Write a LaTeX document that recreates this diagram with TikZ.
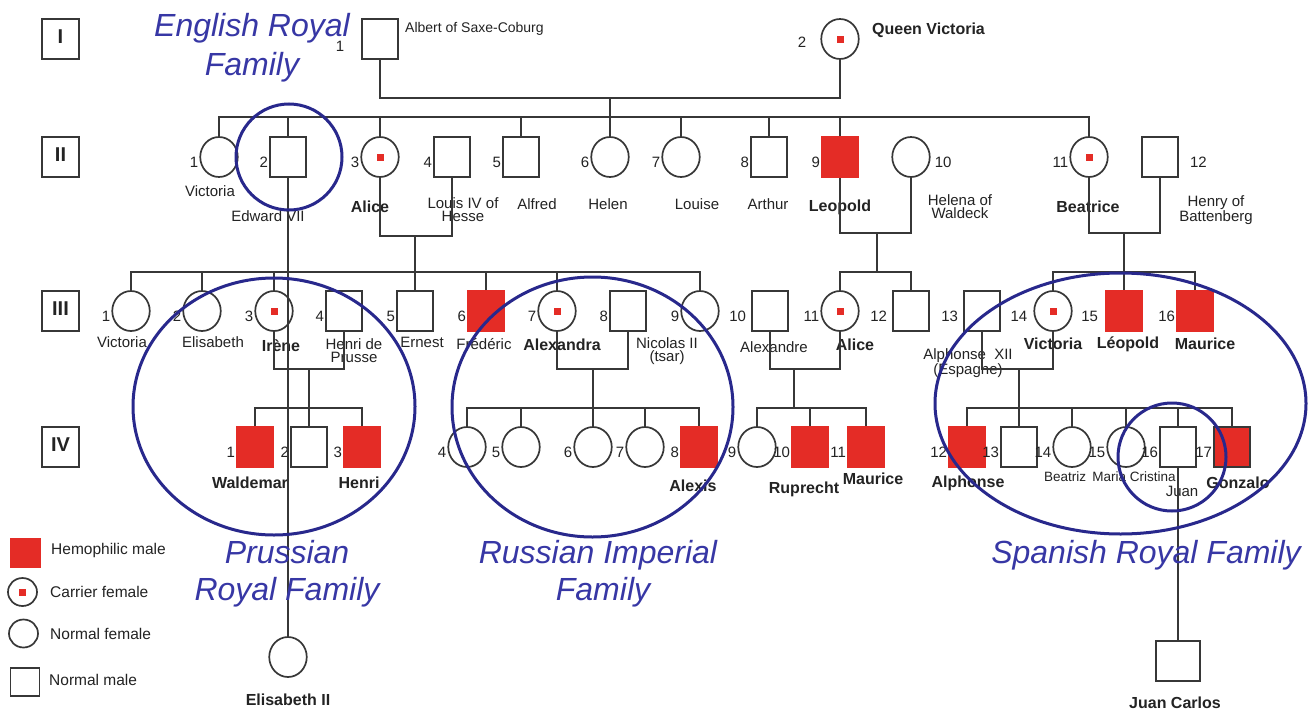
\documentclass[tikz,border=0pt]{standalone}
\usepackage{fontspec}
\setmainfont{Liberation Sans}
\setsansfont{Liberation Sans}
\usetikzlibrary{shapes.geometric}
\definecolor{hemored}{RGB}{228,44,38}
\definecolor{linegray}{RGB}{55,55,55}
\definecolor{txt}{RGB}{35,35,35}
\definecolor{ringblue}{RGB}{40,40,140}
\definecolor{famblue}{RGB}{55,55,165}
\begin{document}
\begin{tikzpicture}[x=1pt,y=-1pt,
 ln/.style={draw=linegray,line width=1.7pt},
 person/.style={draw=linegray,line width=1.7pt,inner sep=0pt,fill=white},
 male/.style={person,rectangle,minimum width=36pt,minimum height=40pt},
 female/.style={person,ellipse,minimum width=37.5pt,minimum height=40pt},
 hemo/.style={male,fill=hemored,draw=hemored},
 carrier/.style={female,path picture={\fill[hemored] ([xshift=-3.5pt,yshift=-3.5pt]path picture bounding box.center) rectangle ++(7pt,7pt);}},
 num/.style={font=\fontsize{15}{15}\selectfont,text=txt,inner sep=1pt,yshift=-5pt},
 nm/.style={font=\fontsize{15}{13}\selectfont,text=txt,align=center,inner sep=0pt},
 bnm/.style={font=\fontsize{16}{14}\selectfont\bfseries,text=txt,align=center,inner sep=0pt},
 sm/.style={font=\fontsize{13.5}{13.5}\selectfont,text=txt,inner sep=0pt},
 gen/.style={draw=linegray,line width=1.7pt,minimum width=37pt,minimum height=40pt,inner sep=0pt,font=\fontsize{20}{20}\selectfont\bfseries,text=txt},
 ring/.style={draw=ringblue,line width=3pt},
 fam/.style={font=\fontsize{32}{38}\selectfont\itshape,text=famblue,inner sep=0pt,anchor=base},
 leg/.style={font=\fontsize{15.5}{15.5}\selectfont,text=txt,anchor=west,inner sep=0pt},
]
\fill[white] (0,0) rectangle (1309,712);
\useasboundingbox (0,0) rectangle (1309,712);

% generation boxes
\node[gen] (g1) at (60.5,39) {\raisebox{4pt}{I}};
\node[gen] (g2) at (60.5,157) {\raisebox{4pt}{II}};
\node[gen] (g3) at (60.5,311) {\raisebox{4pt}{III}};
\node[gen] (g4) at (60.5,447) {\raisebox{4pt}{IV}};

% generation I
\node[male] (I1) at (380,39) {};
\node[carrier] (I2) at (840,39) {};
\node[num] (kI1) at (340,41) {1};
\node[num] (kI2) at (802,37) {2};
\node[font=\fontsize{14}{14}\selectfont,text=txt,anchor=west,inner sep=0pt] (nI1) at (405,29) {Albert of Saxe-Coburg};
\node[font=\fontsize{16}{16}\selectfont\bfseries,text=txt,anchor=west,inner sep=0pt] (nI2) at (872,30) {Queen Victoria};

% generation II
\node[female,label={[num]left:1}] (II1) at (219,157) {};
\node[male,label={[num]left:2}] (II2) at (288,157) {};
\node[carrier,label={[num]left:3}] (II3) at (380,157) {};
\node[male,label={[num]left:4}] (II4) at (452,157) {};
\node[male,label={[num]left:5}] (II5) at (521,157) {};
\node[female,label={[num]left:6}] (II6) at (610,157) {};
\node[female,label={[num]left:7}] (II7) at (681,157) {};
\node[male,label={[num]left:8}] (II8) at (769,157) {};
\node[hemo,label={[num]left:9}] (II9) at (840,157) {};
\node[female,label={[num,xshift=3pt]right:10}] (II10) at (911,157) {};
\node[carrier,label={[num]left:11}] (II11) at (1089,157) {};
\node[male,label={[num,xshift=10pt]right:12}] (II12) at (1160,157) {};

\node[nm] (nII1) at (210,191) {Victoria};
\node[nm] (nII2) at (268,216) {Edward VII};
\node[bnm] (nII3) at (370,207) {Alice};
\node[nm] (nII4) at (463,209.5) {Louis IV of\\Hesse};
\node[nm] (nII5) at (537,204) {Alfred};
\node[nm] (nII6) at (608,204) {Helen};
\node[nm] (nII7) at (697,204) {Louise};
\node[nm] (nII8) at (768,204) {Arthur};
\node[bnm] (nII9) at (840,207) {Leopold};
\node[nm] (nII10) at (960,207) {Helena of\\Waldeck};
\node[bnm] (nII11) at (1088,207) {Beatrice};
\node[nm] (nII12) at (1216,210) {Henry of\\Battenberg};

% generation III
\node[female,label={[num]left:1}] (III1) at (131,311) {};
\node[female,label={[num]left:2}] (III2) at (202,311) {};
\node[carrier,label={[num]left:3}] (III3) at (274,311) {};
\node[male,label={[num]left:4}] (III4) at (344,311) {};
\node[male,label={[num]left:5}] (III5) at (415,311) {};
\node[hemo,label={[num]left:6}] (III6) at (486,311) {};
\node[carrier,label={[num]left:7}] (III7) at (557,311) {};
\node[male,label={[num]left:8}] (III8) at (628,311) {};
\node[female,label={[num]left:9}] (III9) at (700,311) {};
\node[male,label={[num,xshift=-4pt]left:10}] (III10) at (770,311) {};
\node[carrier,label={[num]left:11}] (III11) at (840,311) {};
\node[male,label={[num,xshift=-4pt]left:12}] (III12) at (911,311) {};
\node[male,label={[num,xshift=-4pt]left:13}] (III13) at (982,311) {};
\node[carrier,label={[num,xshift=-5pt]left:14}] (III14) at (1053,311) {};
\node[hemo,label={[num,xshift=-6pt]left:15}] (III15) at (1124,311) {};
\node[hemo,label={[num]left:16}] (III16) at (1195,311) {};

\node[nm] (nIII1) at (122,342) {Victoria};
\node[nm] (nIII2) at (213,342) {Elisabeth};
\node[bnm] (nIII3) at (281,346) {Irène};
\node[nm] (nIII4) at (354,351) {Henri de\\Prusse};
\node[nm] (nIII5) at (422,342) {Ernest};
\node[nm] (nIII6) at (484,344) {Frédéric};
\node[bnm] (nIII7) at (562,345) {Alexandra};
\node[nm] (nIII8) at (667,351) {Nicolas II\\(tsar)};
\node[nm] (nIII10) at (774,347) {Alexandre};
\node[bnm] (nIII11) at (855,345) {Alice};
\node[nm] (nIII13) at (968,363) {Alphonse~~XII\\(Espagne)};
\node[bnm] (nIII14) at (1053,344) {Victoria};
\node[bnm] (nIII15) at (1128,344) {Léopold};
\node[bnm] (nIII16) at (1205,344) {Maurice};

% generation IV
\node[hemo,label={[num]left:1}] (IV1) at (255,447) {};
\node[male,label={[num]left:2}] (IV2) at (309,447) {};
\node[hemo,label={[num]left:3}] (IV3) at (362,447) {};
\node[female,label={[num]left:4}] (IV4) at (467,447) {};
\node[female,label={[num]left:5}] (IV5) at (521,447) {};
\node[female,label={[num]left:6}] (IV6) at (593,447) {};
\node[female,label={[num]left:7}] (IV7) at (645,447) {};
\node[hemo,label={[num]left:8}] (IV8) at (699,447) {};
\node[female,label={[num]left:9}] (IV9) at (757,447) {};
\node[hemo,label={[num]left:10}] (IV10) at (810,447) {};
\node[hemo,label={[num]left:11}] (IV11) at (866,447) {};
\node[hemo,label={[num]left:12}] (IV12) at (967,447) {};
\node[male,label={[num]left:13}] (IV13) at (1019,447) {};
\node[female,label={[num]left:14}] (IV14) at (1072,447) {};
\node[female,label={[num]left:15}] (IV15) at (1126,447) {};
\node[male,label={[num]left:16}] (IV16) at (1178,447) {};
\node[male,fill=hemored,label={[num]left:17}] (IV17) at (1232,447) {};

\node[bnm] (nIV1) at (250,483) {Waldemar};
\node[bnm] (nIV3) at (359,483) {Henri};
\node[bnm] (nIV8) at (693,486) {Alexis};
\node[bnm] (nIV10) at (804,489) {Ruprecht};
\node[bnm] (nIV11) at (873,479) {Maurice};
\node[bnm] (nIV12) at (968,483) {Alphonse};
\node[sm] (nIV14) at (1065,477) {Beatriz};
\node[sm] (nIV15) at (1134,477) {Maria Cristina};
\node[nm] (nIV16) at (1182,491) {Juan};
\node[bnm] (nIV17) at (1238,483) {Gonzalo};

% generation V
\node[female] (E2) at (288,657) {};
\node[bnm] (nE2) at (288,700) {Elisabeth II};
\node[male,minimum width=44pt] (JC) at (1178,661) {};
\node[bnm] (nJC) at (1175,703) {Juan Carlos};

% legend
\node[hemo,minimum width=29pt,minimum height=28pt] (L1) at (25.5,553) {};
\node[carrier,minimum width=29pt,minimum height=28pt] (L2) at (22.5,592) {};
\node[female,minimum width=29pt,minimum height=28pt] (L3) at (23.5,633.5) {};
\node[male,minimum width=29pt,minimum height=28pt] (L4) at (25,682) {};
\node[leg] (tL1) at (51,550) {Hemophilic male};
\node[leg] (tL2) at (50,592) {Carrier female};
\node[leg] (tL3) at (50,634) {Normal female};
\node[leg] (tL4) at (49,680) {Normal male};

% connectors
\coordinate (s2) at (0,117);
\coordinate (s3) at (0,272);
\coordinate (s4) at (0,408);
\coordinate (m1) at (610,98);
\draw[ln] (I1.south) |- (m1) -| (I2.south);
\draw[ln] (m1) -- (II6.north);
\draw[ln] (II1.north) |- (II11.north |- s2) -- (II11.north);
\foreach \c in {II2,II3,II5,II7,II8,II9} \draw[ln] (\c.north) -- (\c.north |- s2);

\coordinate (m2) at (415,236);
\draw[ln] (II3.south) |- (m2) -| (II4.south);
\draw[ln] (m2) -- (III5.north);
\draw[ln] (III1.north) |- (III9.north |- s3) -- (III9.north);
\foreach \c in {III2,III3,III6,III7} \draw[ln] (\c.north) -- (\c.north |- s3);

\coordinate (m3) at (877,233);
\draw[ln] (II9.south) |- (m3) -| (II10.south);
\draw[ln] (m3) -- (m3 |- s3);
\draw[ln] (III11.north) |- (III12.north |- s3) -- (III12.north);

\coordinate (m4) at (1124,233);
\draw[ln] (II11.south) |- (m4) -| (II12.south);
\draw[ln] (m4) -- (III15.north);
\draw[ln] (III14.north) |- (III16.north |- s3) -- (III16.north);

\coordinate (m5) at (309,369);
\draw[ln] (III3.south) |- (m5) -| (III4.south);
\draw[ln] (m5) -- (IV2.north);
\draw[ln] (IV1.north) |- (IV3.north |- s4) -- (IV3.north);

\coordinate (m6) at (593,369);
\draw[ln] (III7.south) |- (m6) -| (III8.south);
\draw[ln] (m6) -- (IV6.north);
\draw[ln] (IV4.north) |- (IV8.north |- s4) -- (IV8.north);
\foreach \c in {IV5,IV7} \draw[ln] (\c.north) -- (\c.north |- s4);

\coordinate (m7) at (794,369);
\draw[ln] (III10.south) |- (m7) -| (III11.south);
\draw[ln] (m7) -- (m7 |- s4);
\draw[ln] (IV9.north) |- (IV11.north |- s4) -- (IV11.north);
\draw[ln] (IV10.north) -- (IV10.north |- s4);

\coordinate (m8) at (1019,369);
\draw[ln] (III13.south) |- (m8) -| (III14.south);
\draw[ln] (m8) -- (IV13.north);
\draw[ln] (IV12.north) |- (IV17.north |- s4) -- (IV17.north);
\foreach \c in {IV14,IV15,IV16} \draw[ln] (\c.north) -- (\c.north |- s4);

\draw[ln] (II2.south) -- (E2.north);
\draw[ln] (IV16.south) -- (JC.north);

% family rings
\draw[ring] (289,157) ellipse [x radius=53pt, y radius=53pt];
\draw[ring] (274,406.5) ellipse [x radius=141pt, y radius=128.5pt];
\draw[ring] (592.5,407) ellipse [x radius=140.5pt, y radius=130pt];
\draw[ring] (1120.5,403.5) ellipse [x radius=185.5pt, y radius=130.5pt];
\draw[ring] (1172,457) ellipse [x radius=54pt, y radius=54pt];

% family titles
\node[fam] (eng1) at (252,36) {English Royal};
\node[fam] (eng2) at (252,75) {Family};
\node[fam] (pru1) at (287,563) {Prussian};
\node[fam] (pru2) at (287,600) {Royal Family};
\node[fam] (rus1) at (598,563) {Russian Imperial};
\node[fam] (rus2) at (603,600) {Family};
\node[fam] (spa1) at (1146,563) {Spanish Royal Family};
\end{tikzpicture}
\end{document}
